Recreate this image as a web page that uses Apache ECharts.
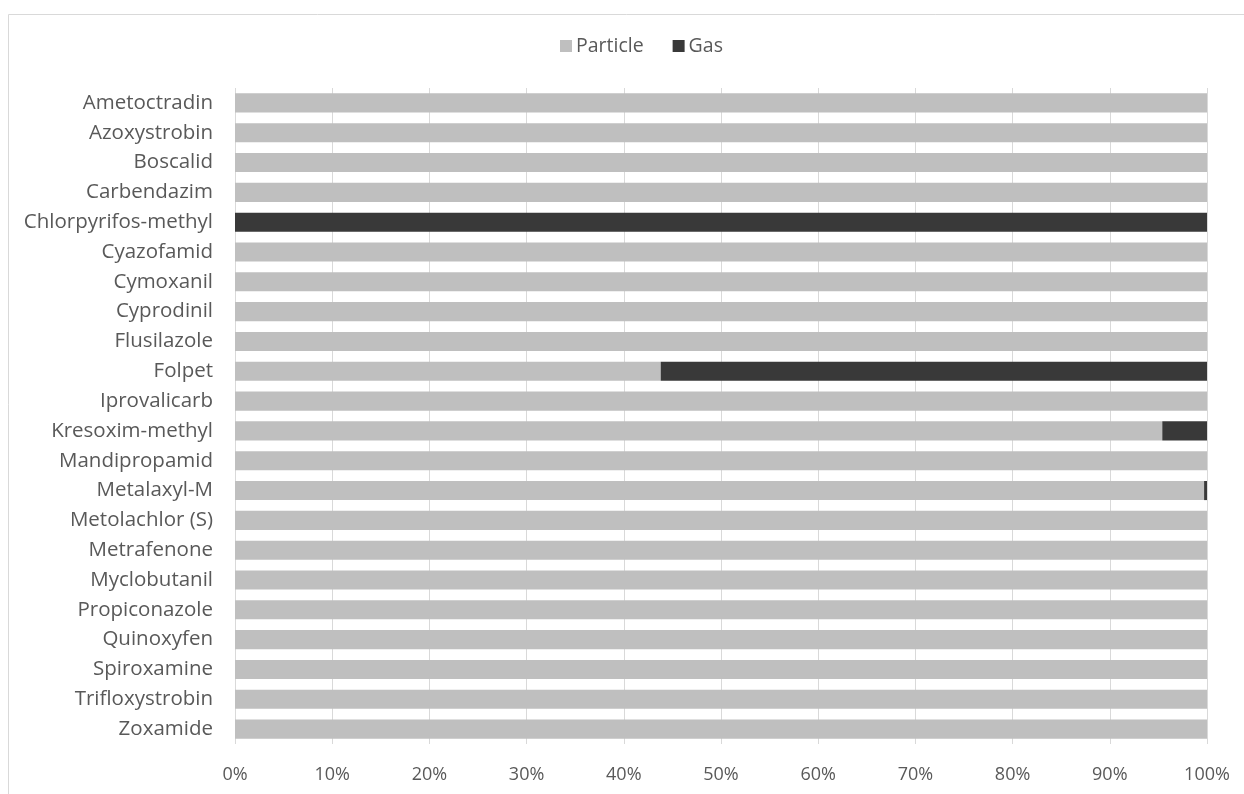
<!DOCTYPE html>
<html><head><meta charset="utf-8">
<script src="https://cdn.jsdelivr.net/npm/echarts@6/dist/echarts.min.js"></script>
<style>html,body{margin:0;padding:0;background:#fff}#c{width:1244px;height:794px}</style>
</head><body><div id="c"></div>
<script>
const categories = ["Ametoctradin","Azoxystrobin","Boscalid","Carbendazim","Chlorpyrifos-methyl","Cyazofamid","Cymoxanil","Cyprodinil","Flusilazole","Folpet","Iprovalicarb","Kresoxim-methyl","Mandipropamid","Metalaxyl-M","Metolachlor (S)","Metrafenone","Myclobutanil","Propiconazole","Quinoxyfen","Spiroxamine","Trifloxystrobin","Zoxamide"];
const particle = [100,100,100,100,0,100,100,100,100,43.8,100,95.4,100,99.7,100,100,100,100,100,100,100,100];
const gas =      [0,0,0,0,100,0,0,0,0,56.2,0,4.6,0,0.3,0,0,0,0,0,0,0,0];
const tickLabels = ["0%","10%","20%","30%","40%","50%","60%","70%","80%","90%","100%"];

const font = "Open Sans";
const chart = echarts.init(document.getElementById('c'));
chart.setOption({
  animation:false,
  textStyle:{fontFamily:font},
  graphic:[{type:'rect',shape:{x:8.5,y:14.5,width:1250,height:790},style:{fill:'none',stroke:'#d9d9d9',lineWidth:1},silent:true}],
  legend:{top:31,left:555,itemWidth:12,itemHeight:12,itemGap:29,
    textStyle:{color:'#595959',fontSize:19.5,fontFamily:font,padding:[0,0,0,-1]},
    data:[{name:'Particle',icon:'rect'},{name:'Gas',icon:'rect'}]},
  grid:{left:235,right:37,top:88,bottom:50,containLabel:false},
  xAxis:{type:'value',min:0,max:100,interval:10,
    axisLabel:{formatter:(v)=>tickLabels[Math.round(v/10)],color:'#595959',fontSize:18,margin:22,fontFamily:font},
    axisLine:{show:false},axisTick:{show:false},
    splitLine:{show:true,lineStyle:{color:'#d9d9d9',width:1}}},
  yAxis:{type:'category',data:categories,inverse:true,
    axisLabel:{color:'#595959',fontSize:20.5,margin:22,fontFamily:font},
    axisLine:{show:false},axisTick:{show:false}},
  series:[
    {name:'Particle',type:'bar',stack:'s',data:particle,barCategoryGap:'36%',itemStyle:{color:'#bfbfbf'}},
    {name:'Gas',type:'bar',stack:'s',data:gas,barCategoryGap:'36%',itemStyle:{color:'#393939'}}
  ]
});
</script></body></html>
